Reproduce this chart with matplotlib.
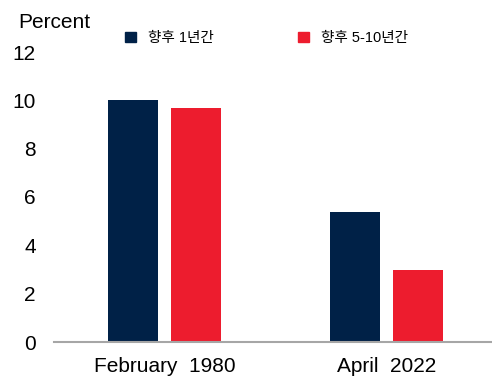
import matplotlib.pyplot as plt
import numpy as np
from matplotlib.patches import Patch

plt.rcParams["font.family"] = ["Liberation Sans", "Noto Sans CJK KR", "DejaVu Sans"]

periods = ["February  1980", "April  2022"]
series_names = ["향후 1년간", "향후 5-10년간"]
one_year = [10.0, 5.4]
five_ten_year = [9.7, 3.0]
colors = ["#002147", "#ED1C2E"]

fig = plt.figure(figsize=(4.92, 3.78), dpi=100)
ax = fig.add_axes([54 / 492, 1 - 342 / 378, 438 / 492, 290 / 378])

x = np.arange(len(periods))
w = 0.225
off = 0.142
ax.bar(x - off, one_year, width=w, color=colors[0])
ax.bar(x + off, five_ten_year, width=w, color=colors[1])

ax.set_xlim(-0.498, 1.475)
ax.set_ylim(0, 12)
ax.set_yticks(range(0, 13, 2))
ax.set_xticks(x)
ax.set_xticklabels(periods)
ax.tick_params(axis="both", length=0, labelsize=15, colors="black")
ax.tick_params(axis="y", pad=13)
ax.tick_params(axis="x", pad=11)
for s in ["left", "right", "top"]:
    ax.spines[s].set_visible(False)
ax.spines["bottom"].set_color("#A6A6A6")
ax.spines["bottom"].set_linewidth(1.5)

fig.text(18 / 492, 1 - 28 / 378, "Percent", fontsize=15, ha="left", va="baseline")

handles = [Patch(color=c) for c in colors]
fig.legend(handles, series_names, ncol=2, loc="center left",
           bbox_to_anchor=(112 / 492, 1 - 38 / 378), frameon=False,
           fontsize=10.5, handlelength=0.75, handleheight=0.75, handletextpad=0.8,
           columnspacing=5.8)

fig.savefig("out.png", dpi=100)
